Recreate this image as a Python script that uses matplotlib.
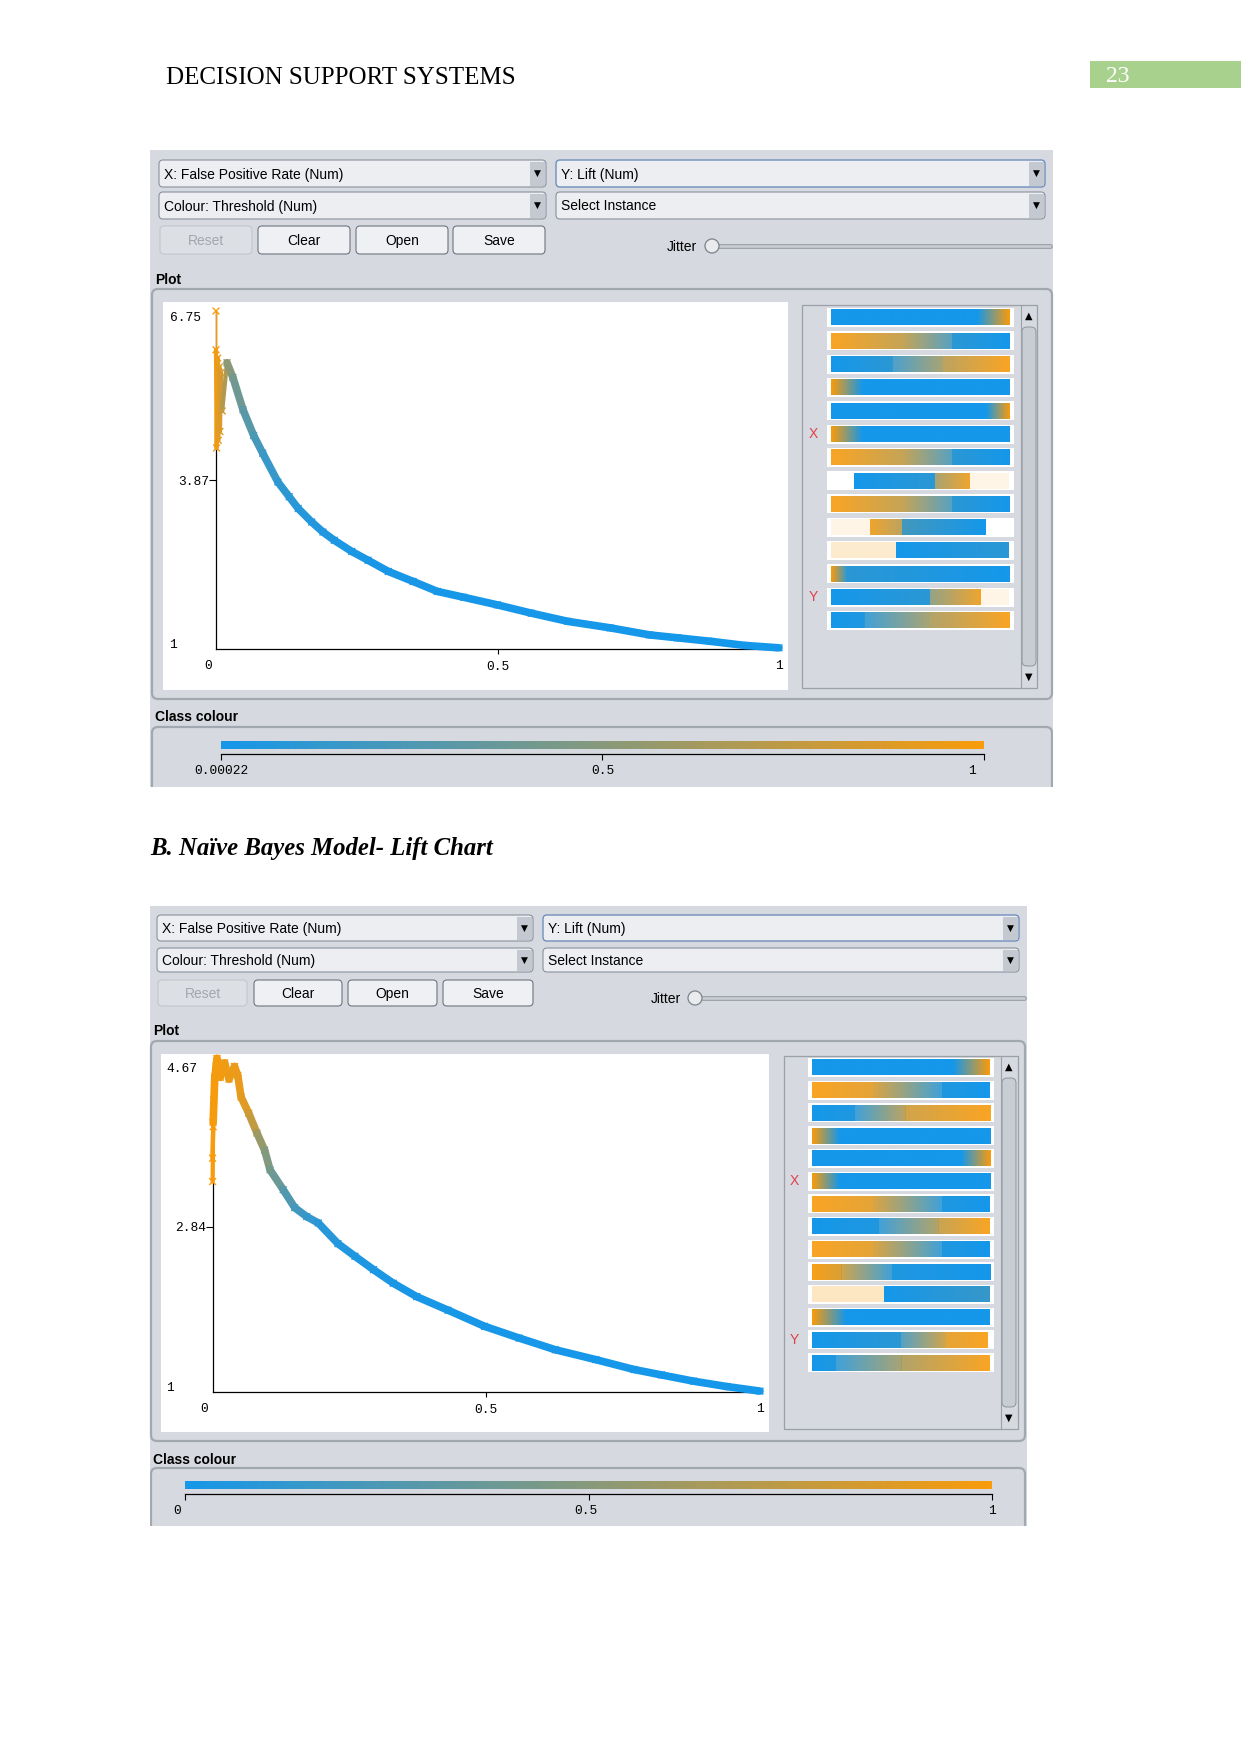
import numpy as np
import matplotlib
matplotlib.use("Agg")
import matplotlib.pyplot as plt
from matplotlib.patches import FancyBboxPatch, Rectangle, Circle
from matplotlib.collections import LineCollection
from matplotlib.colors import LinearSegmentedColormap, Normalize
from matplotlib.cm import ScalarMappable

W, H = 1241, 1754

# ---- data ----
# first model
TOP_FPR = [0.000, 0.000, 0.001, 0.003, 0.004, 0.006, 0.007, 0.009, 0.011, 0.0195, 0.030,
           0.048, 0.067, 0.083, 0.110, 0.130, 0.146, 0.170, 0.190, 0.210, 0.241, 0.270,
           0.306, 0.350, 0.393, 0.440, 0.500, 0.560, 0.625, 0.700, 0.770, 0.820, 0.879,
           0.940, 1.000]
TOP_LIFT = [6.75, 6.09, 4.42, 5.95, 4.55, 5.80, 4.70, 5.70, 5.05, 5.87, 5.62,
            5.07, 4.63, 4.33, 3.84, 3.59, 3.39, 3.16, 2.99, 2.85, 2.66, 2.51,
            2.32, 2.15, 1.98, 1.88, 1.75, 1.61, 1.47, 1.36, 1.24, 1.19, 1.13,
            1.06, 1.02]
TOP_THR = [1.00, 0.98, 0.96, 0.94, 0.92, 0.90, 0.88, 0.85, 0.80, 0.55, 0.45,
           0.33, 0.25, 0.18, 0.12, 0.10, 0.08, 0.06, 0.05, 0.04, 0.03, 0.025,
           0.02, 0.015, 0.01, 0.008, 0.006, 0.005, 0.004, 0.003, 0.002, 0.0015, 0.001,
           0.0005, 0.0002]
TOP_Y_TICKS = [1, 3.87, 6.75]
TOP_CC_TICKS = [0.00022, 0.5, 1]
TOP_CC_LABELS = ["0.00022", "0.5", "1"]

# Naive Bayes
BOT_FPR = [0.000, 0.001, 0.000, 0.002, 0.001, 0.004, 0.008, 0.014, 0.022, 0.030, 0.040,
           0.046, 0.052, 0.066, 0.081, 0.095, 0.105, 0.129, 0.150, 0.172, 0.193, 0.229,
           0.260, 0.294, 0.330, 0.373, 0.430, 0.497, 0.560, 0.626, 0.700, 0.770, 0.820,
           0.879, 0.940, 1.000]
BOT_LIFT = [3.34, 3.95, 3.60, 4.25, 4.00, 4.50, 4.71, 4.50, 4.66, 4.48, 4.62,
            4.52, 4.28, 4.10, 3.88, 3.69, 3.47, 3.25, 3.05, 2.95, 2.88, 2.65,
            2.51, 2.36, 2.21, 2.06, 1.91, 1.73, 1.60, 1.47, 1.36, 1.25, 1.19,
            1.12, 1.06, 1.01]
BOT_THR = [1.00, 1.00, 1.00, 0.99, 0.99, 0.98, 0.98, 0.97, 0.96, 0.95, 0.94,
           0.93, 0.92, 0.85, 0.65, 0.50, 0.45, 0.30, 0.22, 0.15, 0.10, 0.06,
           0.045, 0.03, 0.025, 0.02, 0.015, 0.01, 0.008, 0.005, 0.003, 0.002, 0.0015,
           0.001, 0.0005, 0.0]
BOT_Y_TICKS = [1, 2.84, 4.67]
BOT_CC_TICKS = [0, 0.5, 1]
BOT_CC_LABELS = ["0", "0.5", "1"]

# attribute strips: (start, end, colour value at start, colour value at end, fill)
TOP_STRIPS = [
    [(0.023, 0.80, 0, 0, 1), (0.80, 0.973, 0, 1, 1)],
    [(0.023, 0.40, 1, 0.75, 0.9), (0.40, 0.67, 0.75, 0.2, 0.9), (0.67, 0.975, 0.1, 0, 1)],
    [(0.023, 0.35, 0, 0.1, 1), (0.35, 0.62, 0.15, 0.6, 0.9), (0.62, 0.973, 0.7, 1, 0.9)],
    [(0.023, 0.19, 1, 0, 1), (0.19, 0.973, 0, 0, 1)],
    [(0.023, 0.85, 0, 0, 1), (0.85, 0.973, 0, 1, 1)],
    [(0.023, 0.19, 1, 0, 1), (0.19, 0.973, 0, 0, 1)],
    [(0.023, 0.40, 1, 0.75, 0.9), (0.40, 0.67, 0.75, 0.2, 0.9), (0.67, 0.975, 0.1, 0, 1)],
    [(0.147, 0.58, 0, 0.1, 1), (0.58, 0.765, 0.6, 0.95, 0.9), (0.765, 0.973, 1, 1, 0.1)],
    [(0.023, 0.40, 1, 0.75, 0.9), (0.40, 0.67, 0.75, 0.2, 0.9), (0.67, 0.975, 0.1, 0, 1)],
    [(0.023, 0.23, 1, 1, 0.1), (0.23, 0.40, 0.95, 0.7, 0.9), (0.40, 0.845, 0.2, 0, 1)],
    [(0.023, 0.37, 1, 1, 0.2), (0.37, 0.973, 0, 0.1, 1)],
    [(0.023, 0.10, 1, 0.2, 1), (0.10, 0.973, 0.1, 0, 1)],
    [(0.023, 0.55, 0, 0.1, 1), (0.55, 0.82, 0.5, 0.95, 0.9), (0.82, 0.973, 1, 1, 0.1)],
    [(0.023, 0.20, 0, 0.05, 1), (0.20, 0.55, 0.1, 0.6, 0.9), (0.55, 0.973, 0.65, 1, 0.9)],
]
BOT_STRIPS = [
    [(0.024, 0.78, 0, 0, 1), (0.78, 0.978, 0, 1, 1)],
    [(0.024, 0.35, 1, 0.9, 0.9), (0.35, 0.72, 0.85, 0.1, 0.9), (0.72, 0.978, 0.05, 0, 1)],
    [(0.024, 0.25, 0, 0.05, 1), (0.25, 0.52, 0.1, 0.7, 0.9), (0.52, 0.978, 0.8, 1, 0.9)],
    [(0.024, 0.17, 1, 0, 1), (0.17, 0.978, 0, 0, 1)],
    [(0.024, 0.82, 0, 0, 1), (0.82, 0.978, 0, 1, 1)],
    [(0.024, 0.17, 1, 0, 1), (0.17, 0.978, 0, 0, 1)],
    [(0.024, 0.35, 1, 0.9, 0.9), (0.35, 0.72, 0.85, 0.1, 0.9), (0.72, 0.978, 0.05, 0, 1)],
    [(0.024, 0.38, 0, 0.05, 1), (0.38, 0.70, 0.1, 0.65, 0.9), (0.70, 0.978, 0.75, 1, 0.9)],
    [(0.024, 0.35, 1, 0.9, 0.9), (0.35, 0.72, 0.85, 0.1, 0.9), (0.72, 0.978, 0.05, 0, 1)],
    [(0.024, 0.18, 1, 0.85, 0.95), (0.18, 0.45, 0.8, 0.1, 0.9), (0.45, 0.978, 0.05, 0, 1)],
    [(0.024, 0.41, 1, 1, 0.25), (0.41, 0.978, 0, 0.15, 1)],
    [(0.024, 0.20, 1, 0.05, 1), (0.20, 0.978, 0, 0, 1)],
    [(0.024, 0.50, 0, 0.1, 1), (0.50, 0.74, 0.2, 0.8, 0.9), (0.74, 0.965, 0.9, 1, 0.9)],
    [(0.024, 0.15, 0, 0.05, 1), (0.15, 0.50, 0.1, 0.6, 0.9), (0.50, 0.978, 0.65, 1, 0.9)],
]

# ---- layout (pixels on the page) ----
TOP = dict(panel=(150, 150, 1053, 787), xcombo=(159, 546), ycombo=(556, 1045),
           rows=((160, 187), (192, 219)), btn_y=(226, 254),
           btns=((160, 252), (258, 350), (356, 448), (453, 545)),
           jitter=(697, 712, 1050, 246), plot_lbl=(155, 280), plot_box=(152, 289, 1052, 699),
           white=(163, 302, 788, 690), axes=(216, 311, 779, 649),
           side=(802, 305, 1037, 688), scroll=(1021, 1037), strip_x=(827, 1014),
           strip_y0=308, pitch=23.3, strip_h=19, lbl_x=813,
           cc_lbl=(155, 717), cc_box=(152, 727, 1052, 800), cc_bar=(221, 741, 984, 749),
           cc_line=754, cc_off=(0, 0, -12), thin=9)
BOT = dict(panel=(150, 906, 1027, 1526), xcombo=(157, 533), ycombo=(543, 1019),
           rows=((915, 941), (948, 972)), btn_y=(980, 1006),
           btns=((158, 247), (254, 342), (348, 437), (443, 533)),
           jitter=(681, 695, 1024, 998), plot_lbl=(153, 1031), plot_box=(151, 1041, 1025, 1441),
           white=(161, 1054, 769, 1432), axes=(212.6, 1062, 760, 1392),
           side=(784, 1056, 1018, 1429), scroll=(1001, 1017), strip_x=(808, 994),
           strip_y0=1058, pitch=22.7, strip_h=19, lbl_x=794,
           cc_lbl=(153, 1460), cc_box=(151, 1468, 1025, 1540), cc_bar=(185, 1481, 992, 1489),
           cc_line=1494, cc_off=(-8, -3, 0), thin=4)

BG = "#d6d9df"
EDGE = "#8a929d"
UI = "Liberation Sans"
MONO = "Liberation Mono"
UI_SIZE = 10

cmap = LinearSegmentedColormap.from_list("weka", ["#1597ea", "#f99b0b"])

fig = plt.figure(figsize=(W / 100, H / 100), dpi=100)
bg = fig.add_axes([0, 0, 1, 1])
bg.set_xlim(0, W)
bg.set_ylim(H, 0)
bg.axis("off")


def px_axes(x0, y0, x1, y1):
    return fig.add_axes([x0 / W, 1 - y1 / H, (x1 - x0) / W, (y1 - y0) / H])


def rbox(x0, y0, x1, y1, fc, ec, lw=0.8, r=4, z=1):
    p = FancyBboxPatch((x0, y0), x1 - x0, y1 - y0,
                       boxstyle=f"round,pad=0,rounding_size={r}",
                       fc=fc, ec=ec, lw=lw, zorder=z)
    bg.add_patch(p)
    return p


def combo(x0, x1, y0, y1, text, focus=False):
    rbox(x0, y0, x1, y1, "#eceef1", "#6f8fbf" if focus else EDGE, lw=1.0 if focus else 0.8, z=2)
    bg.add_patch(Rectangle((x1 - 16, y0 + 1.5), 14.5, y1 - y0 - 3, fc="#c4c9d1", ec="none", zorder=3))
    bg.text(x0 + 5, (y0 + y1) / 2 + 1, text, fontsize=UI_SIZE, family=UI, va="center", zorder=4)
    bg.text(x1 - 8.5, (y0 + y1) / 2, "\u25bc", fontsize=6.5, family="DejaVu Sans",
            ha="center", va="center", zorder=4)


def draw_weka(g, fpr, lift, thr, yticks, strips, cc_ticks, cc_labels):
    px0, py0, px1, py1 = g["panel"]
    panel = Rectangle((px0, py0), px1 - px0, py1 - py0, fc=BG, ec="none", zorder=0)
    bg.add_patch(panel)

    # selectors and buttons
    (r1a, r1b), (r2a, r2b) = g["rows"]
    combo(*g["xcombo"], r1a, r1b, "X: False Positive Rate (Num)")
    combo(*g["ycombo"], r1a, r1b, "Y: Lift (Num)", focus=True)
    combo(*g["xcombo"], r2a, r2b, "Colour: Threshold (Num)")
    combo(*g["ycombo"], r2a, r2b, "Select Instance")
    by0, by1 = g["btn_y"]
    for i, ((bx0, bx1), name) in enumerate(zip(g["btns"], ["Reset", "Clear", "Open", "Save"])):
        off = i == 0
        rbox(bx0, by0, bx1, by1, "#dcdfe3" if off else "#eef0f3",
             "#c3c7cd" if off else "#6e767f", lw=0.8, z=2)
        bg.text((bx0 + bx1) / 2, (by0 + by1) / 2 + 1, name, fontsize=UI_SIZE, family=UI,
                ha="center", va="center", color="#a3a7ad" if off else "black", zorder=3)
    jl, jk, je, jy = g["jitter"]
    bg.text(jl, jy + 1, "Jitter", fontsize=UI_SIZE, family=UI, ha="right", va="center")
    bg.plot([jk, je], [jy, jy], color="#9ea4ac", lw=3.6, solid_capstyle="round", zorder=2)
    bg.plot([jk, je], [jy, jy], color="#c9cdd3", lw=1.8, solid_capstyle="round", zorder=2)
    bg.add_patch(Circle((jk, jy), 7, fc="#e9ebee", ec="#7c838c", lw=0.9, zorder=3))

    # plot group
    lx, ly = g["plot_lbl"]
    bg.text(lx, ly, "Plot", fontsize=UI_SIZE, family=UI, weight="bold", va="center")
    bx0, by0, bx1, by1 = g["plot_box"]
    rbox(bx0, by0, bx1, by1, BG, "#a2a8b0", lw=1.6, r=6, z=1)
    wx0, wy0, wx1, wy1 = g["white"]
    bg.add_patch(Rectangle((wx0, wy0), wx1 - wx0, wy1 - wy0, fc="white", ec="none", zorder=2))

    ax = px_axes(*g["axes"])
    ax.set_xlim(0, 1)
    ax.set_ylim(yticks[0], yticks[-1])
    ax.patch.set_visible(False)
    for s in ("top", "right"):
        ax.spines[s].set_visible(False)
    for s in ("left", "bottom"):
        ax.spines[s].set_linewidth(0.9)
    ax.set_yticks([yticks[1]])
    ax.set_yticklabels([f"{yticks[1]:.2f}"], family=MONO, fontsize=9.3)
    ax.set_xticks([0.5])
    ax.set_xticklabels(["0.5"], family=MONO, fontsize=9.3)
    ax.tick_params(axis="y", length=5, width=0.8, pad=0)
    ax.tick_params(axis="x", length=3.5, width=0.8, pad=5)
    ax.annotate(f"{yticks[-1]:.2f}", (0, yticks[-1]), xytext=(-15, -7), textcoords="offset pixels",
                ha="right", va="center", family=MONO, fontsize=9.3)
    ax.annotate("1", (0, yticks[0]), xytext=(-39, 4), textcoords="offset pixels",
                ha="right", va="center", family=MONO, fontsize=9.3)
    ax.annotate("0", (0, yticks[0]), xytext=(-8, -17), textcoords="offset pixels",
                ha="center", va="center", family=MONO, fontsize=9.3)
    ax.annotate("1", (1, yticks[0]), xytext=(0, -17), textcoords="offset pixels",
                ha="center", va="center", family=MONO, fontsize=9.3)

    pts = np.column_stack([fpr, lift])
    segs = np.stack([pts[:-1], pts[1:]], axis=1)
    thr = np.asarray(thr)
    mid = (thr[:-1] + thr[1:]) / 2
    # the jittery start near x = 0 is drawn with a thinner stroke
    widths = [3.0 if k < g["thin"] else 5.5 for k in range(len(segs))]
    if yticks is TOP_Y_TICKS:
        widths[0] = 1.0
    lc = LineCollection(segs, colors=cmap(mid), linewidths=widths,
                        capstyle="round", joinstyle="round", clip_on=False, zorder=3)
    ax.add_collection(lc)
    ax.scatter(fpr, lift, c=thr, cmap=cmap, vmin=0, vmax=1, marker="x", s=24,
               linewidths=1.0, clip_on=False, zorder=4)

    # attribute strips panel
    sx0, sy0, sx1, sy1 = g["side"]
    bg.add_patch(Rectangle((sx0, sy0), sx1 - sx0, sy1 - sy0, fc=BG, ec="#9aa0a8", lw=0.9, zorder=2))
    c0, c1 = g["scroll"]
    rbox(c0 + 1, sy0 + 22, c1 - 1, sy1 - 22, "#c8ccd3", "#8f959d", lw=0.7, r=5, z=3)
    bg.plot([c0, c0], [sy0, sy1], color="#9aa0a8", lw=0.8, zorder=3)
    bg.text((c0 + c1) / 2, sy0 + 11, "\u25b2", fontsize=7, family="DejaVu Sans",
            ha="center", va="center", zorder=4)
    bg.text((c0 + c1) / 2, sy1 - 11, "\u25bc", fontsize=7, family="DejaVu Sans",
            ha="center", va="center", zorder=4)
    tx0, tx1 = g["strip_x"]
    tw = tx1 - tx0
    for i, segs_i in enumerate(strips):
        ty0 = g["strip_y0"] + i * g["pitch"]
        ty1 = ty0 + g["strip_h"]
        bg.add_patch(Rectangle((tx0, ty0), tw, ty1 - ty0, fc="white", ec="none", zorder=3))
        for a, b, v0, v1, f in segs_i:
            grad = np.linspace(v0, v1, 64)[None, :]
            bg.imshow(grad, cmap=cmap, vmin=0, vmax=1, aspect="auto", alpha=f,
                      extent=(tx0 + a * tw, tx0 + b * tw, ty1 - 1.5, ty0 + 1.5),
                      interpolation="bilinear", zorder=4)
        if i in (5, 12):
            bg.text(g["lbl_x"], (ty0 + ty1) / 2, "X" if i == 5 else "Y", fontsize=10,
                    family=UI, color="#e0404a", ha="center", va="center", zorder=4)

    # class colour
    lx, ly = g["cc_lbl"]
    bg.text(lx, ly, "Class colour", fontsize=UI_SIZE, family=UI, weight="bold", va="center")
    cx0, cy0, cx1, cy1 = g["cc_box"]
    p = rbox(cx0, cy0, cx1, cy1, BG, "#a2a8b0", lw=1.6, r=6, z=1)
    p.set_clip_path(panel)
    bx0, by0, bx1, by1 = g["cc_bar"]
    cax = px_axes(bx0, by0, bx1, by1)
    sm = ScalarMappable(norm=Normalize(cc_ticks[0], cc_ticks[-1]), cmap=cmap)
    cb = fig.colorbar(sm, cax=cax, orientation="horizontal")
    cb.outline.set_visible(False)
    cb.set_ticks([])
    tax = px_axes(bx0, by1, bx1, g["cc_line"])
    tax.patch.set_visible(False)
    for s in ("top", "left", "right"):
        tax.spines[s].set_visible(False)
    tax.spines["bottom"].set_linewidth(0.9)
    tax.set_yticks([])
    tax.set_xlim(cc_ticks[0], cc_ticks[-1])
    tax.set_xticks(cc_ticks)
    tax.set_xticklabels([])
    tax.tick_params(axis="x", length=4.5, width=0.8)
    for t, lab, dx in zip(cc_ticks, cc_labels, g["cc_off"]):
        tax.annotate(lab, (t, 0), xycoords=("data", "axes fraction"), xytext=(dx, -17),
                     textcoords="offset pixels", ha="center", va="center",
                     family=MONO, fontsize=9.3)


# page header
bg.text(166, 78, "DECISION SUPPORT SYSTEMS", fontsize=18, family="Liberation Serif", va="center")
bg.add_patch(Rectangle((1090, 61), 151, 27, fc="#a9d18e", ec="none"))
bg.text(1118, 77, "23", fontsize=17, family="Liberation Serif", color="white", ha="center", va="center")

draw_weka(TOP, TOP_FPR, TOP_LIFT, TOP_THR, TOP_Y_TICKS, TOP_STRIPS, TOP_CC_TICKS, TOP_CC_LABELS)

bg.text(150, 848, "B. Na\u00efve Bayes Model- Lift Chart", fontsize=17.8, family="Liberation Serif",
        weight="bold", style="italic", va="center")

draw_weka(BOT, BOT_FPR, BOT_LIFT, BOT_THR, BOT_Y_TICKS, BOT_STRIPS, BOT_CC_TICKS, BOT_CC_LABELS)

bg.set_xlim(0, W)
bg.set_ylim(H, 0)
fig.savefig("out.png", dpi=100)
